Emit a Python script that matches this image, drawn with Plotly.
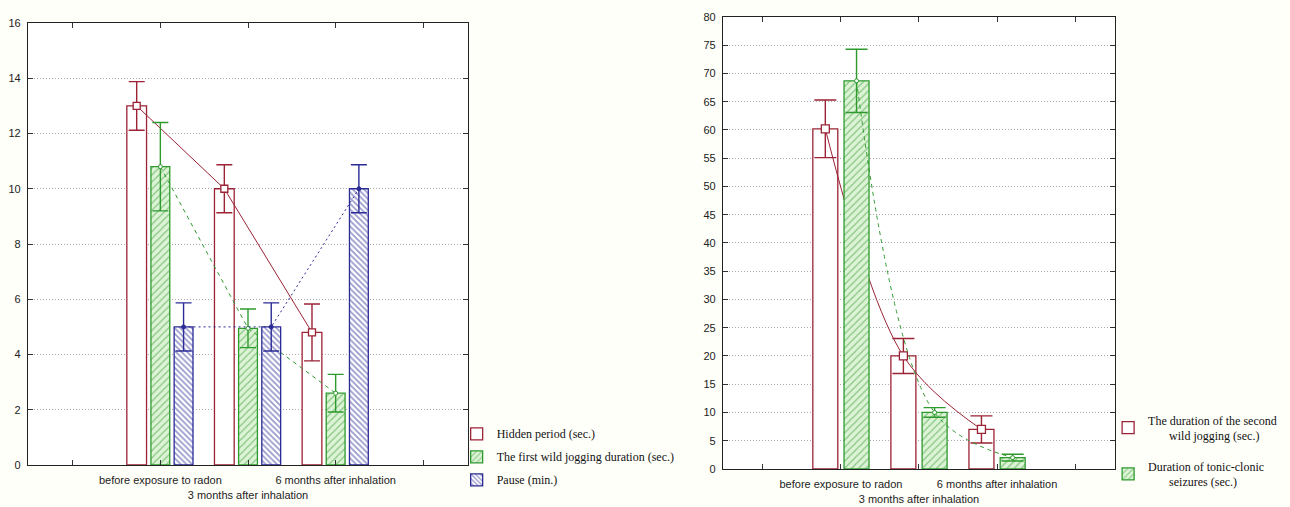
import numpy as np
import plotly.graph_objects as go

# ---------------- data ----------------
cat_pos = [1, 2, 3]
tick_vals = [0, 1, 2, 3, 4]
tick_text = ["", "before exposure to radon", "<br>3 months after inhalation",
             "6 months after inhalation", ""]

# left chart
hidden = [13.0, 10.0, 4.8]
hidden_err = [0.88, 0.87, 1.03]
first_jog = [10.8, 4.95, 2.6]
first_jog_err = [1.6, 0.7, 0.68]
pause = [5.0, 5.0, 10.0]
pause_err = [0.87, 0.87, 0.87]
left_names = ["Hidden period (sec.)", "The first wild jogging duration (sec.)", "Pause (min.)"]

# right chart
second_jog = [60.2, 20.0, 7.0]
second_jog_err = [5.1, 3.1, 2.4]
tonic = [68.7, 10.0, 2.0]
tonic_err = [5.6, 0.85, 0.6]
right_names = ["The duration of the second<br>" + "\u00a0" * 7 + "wild jogging (sec.)",
               "Duration of tonic-clonic<br>" + "\u00a0" * 7 + "seizures (sec.)"]

RED = "#9B2335"
GREEN = "#2E9A2E"
BLUE = "#2B2B96"
BG = "#FFFFFA"
GREEN_BG = "#DDF3D6"

fig = go.Figure()


def add_series(vals, errs, off, width, color, name, group, xa, ya, legend, pattern,
               fill, dash, marker, shape, capw):
    pos = np.array(cat_pos, dtype=float) + off
    fig.add_trace(go.Bar(
        x=pos, y=vals, width=width, name=name, xaxis=xa, yaxis=ya, legend=legend,
        legendgroup=group,
        marker=dict(color=fill, line=dict(color=color, width=1.3),
                    pattern=pattern),
        hoverinfo="skip"))
    fig.add_trace(go.Scatter(
        x=pos, y=vals, mode="lines+markers", xaxis=xa, yaxis=ya, legendgroup=group,
        showlegend=False, line=dict(color=color, width=1, dash=dash, shape=shape),
        marker=marker,
        error_y=dict(type="data", array=errs, color=color, thickness=1.4, width=capw),
        hoverinfo="skip"))


sq = dict(symbol="square", size=7, color="white", line=dict(color=RED, width=1.3))
dot_g = dict(symbol="circle", size=4, color="white", line=dict(color=GREEN, width=1))
dot_b = dict(symbol="circle", size=4, color=BLUE, line=dict(color=BLUE, width=1))

green_pat = dict(shape="/", fgcolor=GREEN, bgcolor=GREEN_BG, size=5, solidity=0.25)
blue_pat = dict(shape="\\", fgcolor=BLUE, bgcolor="white", size=4, solidity=0.4)

# left chart
add_series(hidden, hidden_err, -0.27, 0.225, RED, left_names[0], "l1", "x", "y", "legend",
           None, "white", "solid", sq, "linear", 8)
add_series(first_jog, first_jog_err, 0.0, 0.215, GREEN, left_names[1], "l2", "x3", "y3", "legend",
           green_pat, GREEN_BG, "4px,4px", dot_g, "linear", 8)
add_series(pause, pause_err, 0.265, 0.215, BLUE, left_names[2], "l3", "x4", "y4", "legend",
           blue_pat, "white", "2px,3px", dot_b, "linear", 8)

# right chart
sq2 = dict(symbol="square", size=8, color="white", line=dict(color=RED, width=1.3))
add_series(second_jog, second_jog_err, -0.2, 0.32, RED, right_names[0], "r1", "x2", "y2", "legend2",
           None, "white", "solid", sq2, "spline", 11)
add_series(tonic, tonic_err, 0.2, 0.32, GREEN, right_names[1], "r2", "x5", "y5", "legend2",
           green_pat, GREEN_BG, "4px,4px", dot_g, "spline", 11)

tickfont = dict(family="Liberation Sans, Arial, sans-serif", size=11, color="#222222")

xbase = dict(range=[-0.51, 4.51], tickvals=tick_vals, ticktext=tick_text,
             tickangle=0, automargin=False, ticklabelstandoff=5,
             ticks="inside", ticklen=5, tickcolor="#333", mirror="ticks",
             showline=True, linecolor="#222", linewidth=1.2, showgrid=False,
             zeroline=False, tickfont=tickfont)
ybase = dict(ticks="inside", ticklen=5, tickcolor="#333", mirror="ticks",
             automargin=False, ticklabelstandoff=4,
             showline=True, linecolor="#222", linewidth=1.2, showgrid=True,
             gridcolor="#AAAAAA", griddash="1px,2px", gridwidth=1, zeroline=False,
             tickfont=tickfont)
hidden_ax = dict(visible=False, showgrid=False, zeroline=False)

fig.update_layout(
    width=1290, height=507, margin=dict(l=0, r=0, t=0, b=0),
    paper_bgcolor=BG, plot_bgcolor="#FFFFFF", barmode="overlay",
    xaxis=dict(**xbase, domain=[0.0217, 0.3628], anchor="y"),
    yaxis=dict(**ybase, domain=[0.0828, 0.9546], range=[0, 16], dtick=2, anchor="x"),
    xaxis2=dict(**xbase, domain=[0.5605, 0.8643], anchor="y2"),
    yaxis2=dict(**ybase, domain=[0.075, 0.9665], range=[0, 80], dtick=5, anchor="x2"),
    xaxis3=dict(**hidden_ax, overlaying="x", range=[-0.51, 4.51], anchor="y3"),
    yaxis3=dict(**hidden_ax, overlaying="y", range=[0, 16], anchor="x3"),
    xaxis4=dict(**hidden_ax, overlaying="x", range=[-0.51, 4.51], anchor="y4"),
    yaxis4=dict(**hidden_ax, overlaying="y", range=[0, 16], anchor="x4"),
    xaxis5=dict(**hidden_ax, overlaying="x2", range=[-0.51, 4.51], anchor="y5"),
    yaxis5=dict(**hidden_ax, overlaying="y2", range=[0, 80], anchor="x5"),
    legend=dict(x=0.354, y=0.173, xanchor="left", yanchor="top",
                bgcolor="rgba(0,0,0,0)", itemwidth=30, tracegroupgap=4,
                font=dict(family="Liberation Serif, Times New Roman, serif", size=12, color="#111")),
    legend2=dict(x=0.859, y=0.2, xanchor="left", yanchor="top",
                 bgcolor="rgba(0,0,0,0)", itemwidth=30, tracegroupgap=12,
                 font=dict(family="Liberation Serif, Times New Roman, serif", size=12, color="#111")),
    showlegend=True,
)

fig.write_html("out.html", config={"displayModeBar": False},
               post_script="document.body.style.margin='0';")
